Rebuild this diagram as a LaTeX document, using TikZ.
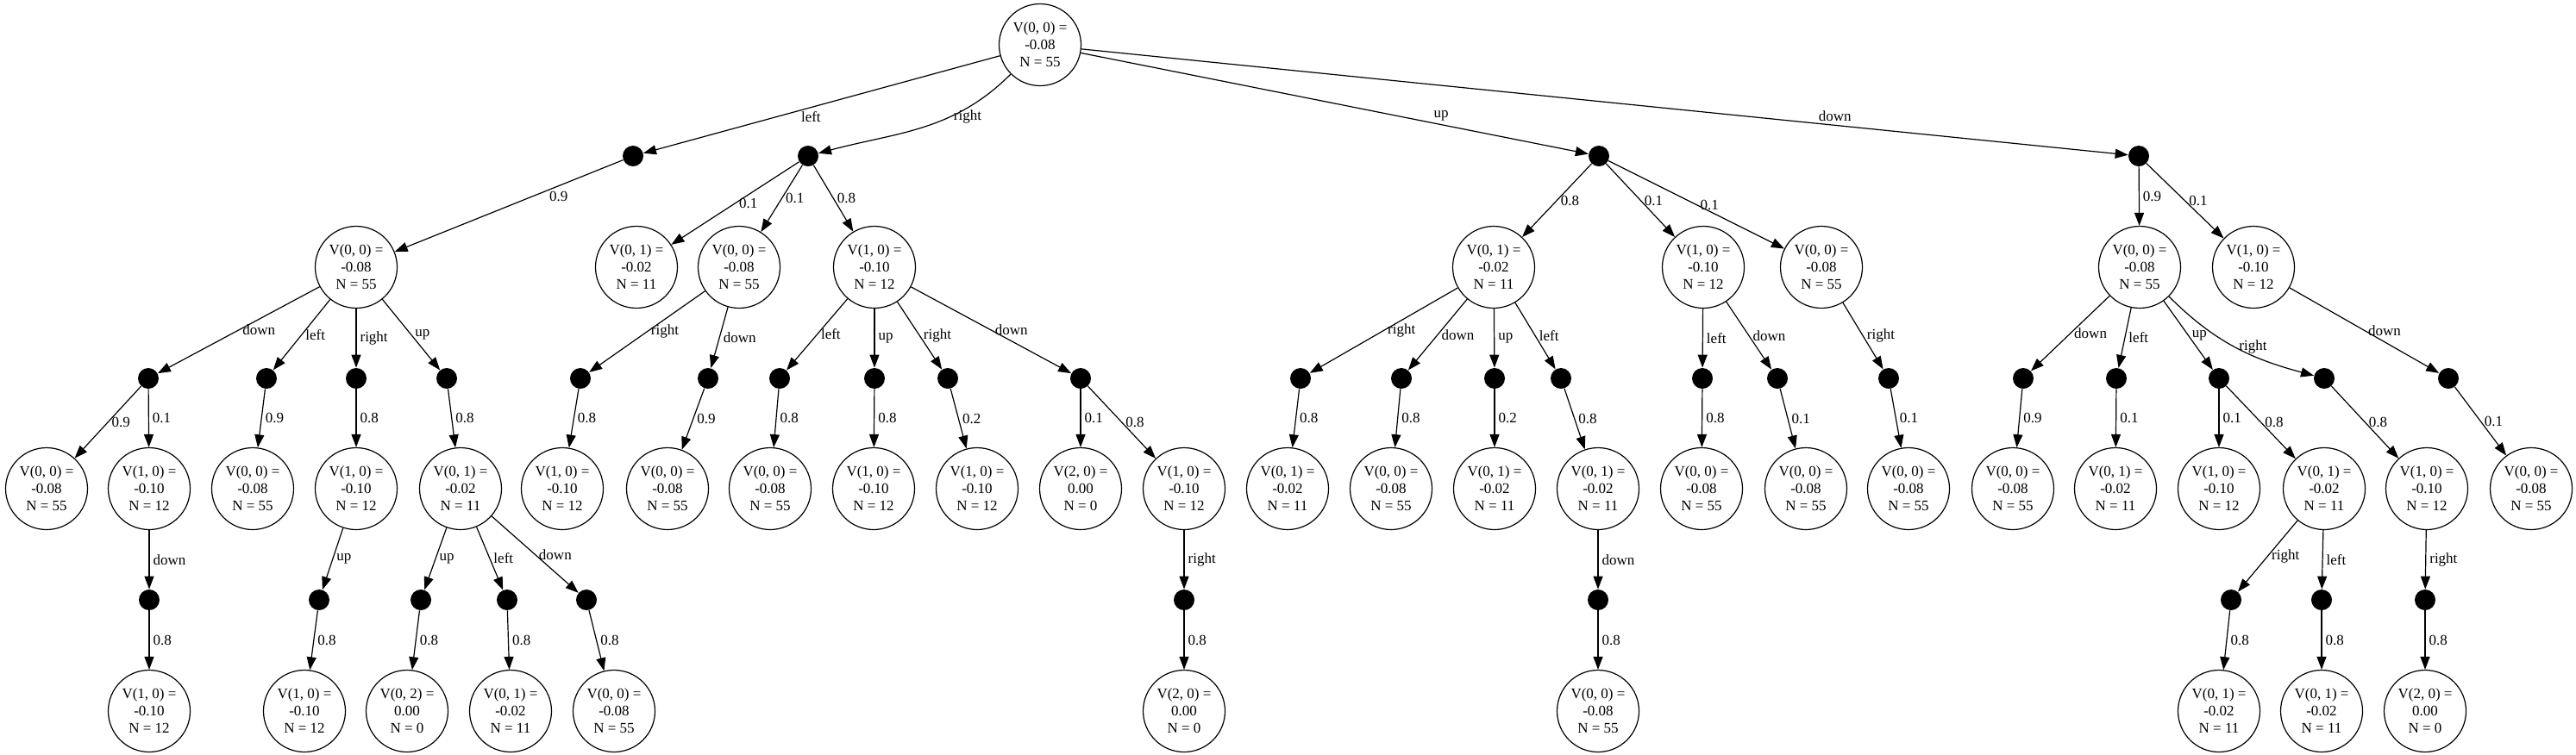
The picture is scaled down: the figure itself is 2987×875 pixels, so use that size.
\documentclass[tikz,border=0pt]{standalone}
\usepackage{fontspec}
\setmainfont{Liberation Serif}
\usetikzlibrary{arrows.meta}

\begin{document}
\begin{tikzpicture}[x=0.5pt, y=-0.5pt,
    state/.style={circle, draw, line width=0.6pt, minimum size=47.5pt, inner sep=0pt, align=center, font=\fontsize{8.5}{10}\selectfont},
    chance/.style={circle, fill=black, minimum size=12pt, inner sep=0pt},
    arr/.style={-{Triangle[length=7.5pt, width=5.5pt]}, line width=0.6pt},
    lbl/.style={font=\fontsize{8.5}{10}\selectfont, inner sep=2pt, anchor=west}]
    \useasboundingbox (0,0) rectangle (2987,875);

    \node[state] (r) at (1206,52) {V(0, 0) =\\-0.08\\N = 55};

    \node[chance] (cL) at (734,181) {};
    \node[chance] (cR) at (937,181) {};
    \node[chance] (cU) at (1854,181) {};
    \node[chance] (cD) at (2480,181) {};

    \node[state] (s1) at (413,310) {V(0, 0) =\\-0.08\\N = 55};
    \node[state] (s2) at (738,310) {V(0, 1) =\\-0.02\\N = 11};
    \node[state] (s3) at (857,310) {V(0, 0) =\\-0.08\\N = 55};
    \node[state] (s4) at (1014,310) {V(1, 0) =\\-0.10\\N = 12};
    \node[state] (s5) at (1732,310) {V(0, 1) =\\-0.02\\N = 11};
    \node[state] (s6) at (1975,310) {V(1, 0) =\\-0.10\\N = 12};
    \node[state] (s7) at (2112,310) {V(0, 0) =\\-0.08\\N = 55};
    \node[state] (s8) at (2481,310) {V(0, 0) =\\-0.08\\N = 55};
    \node[state] (s9) at (2613,310) {V(1, 0) =\\-0.10\\N = 12};

    \node[chance] (c1a) at (172,439) {};
    \node[chance] (c1b) at (309,439) {};
    \node[chance] (c1c) at (413,439) {};
    \node[chance] (c1d) at (518,439) {};
    \node[chance] (c3a) at (673,439) {};
    \node[chance] (c3b) at (821,439) {};
    \node[chance] (c4a) at (904,439) {};
    \node[chance] (c4b) at (1014,439) {};
    \node[chance] (c4c) at (1099,439) {};
    \node[chance] (c4d) at (1253,439) {};
    \node[chance] (c5a) at (1508,439) {};
    \node[chance] (c5b) at (1625,439) {};
    \node[chance] (c5c) at (1733,439) {};
    \node[chance] (c5d) at (1810,439) {};
    \node[chance] (c6a) at (1974,439) {};
    \node[chance] (c6b) at (2061,439) {};
    \node[chance] (c7a) at (2190,439) {};
    \node[chance] (c8a) at (2346,439) {};
    \node[chance] (c8b) at (2454,439) {};
    \node[chance] (c8c) at (2573,439) {};
    \node[chance] (c8d) at (2695,439) {};
    \node[chance] (c9a) at (2839,439) {};

    \node[state] (t1) at (54,567) {V(0, 0) =\\-0.08\\N = 55};
    \node[state] (t2) at (173,567) {V(1, 0) =\\-0.10\\N = 12};
    \node[state] (t3) at (293,567) {V(0, 0) =\\-0.08\\N = 55};
    \node[state] (t4) at (413,567) {V(1, 0) =\\-0.10\\N = 12};
    \node[state] (t5) at (534,567) {V(0, 1) =\\-0.02\\N = 11};
    \node[state] (t6) at (652,567) {V(1, 0) =\\-0.10\\N = 12};
    \node[state] (t7) at (774,567) {V(0, 0) =\\-0.08\\N = 55};
    \node[state] (t8) at (893,567) {V(0, 0) =\\-0.08\\N = 55};
    \node[state] (t9) at (1013,567) {V(1, 0) =\\-0.10\\N = 12};
    \node[state] (t10) at (1133,567) {V(1, 0) =\\-0.10\\N = 12};
    \node[state] (t11) at (1253,567) {V(2, 0) =\\0.00\\N = 0};
    \node[state] (t12) at (1373,567) {V(1, 0) =\\-0.10\\N = 12};
    \node[state] (t13) at (1493,567) {V(0, 1) =\\-0.02\\N = 11};
    \node[state] (t14) at (1613,567) {V(0, 0) =\\-0.08\\N = 55};
    \node[state] (t15) at (1733,567) {V(0, 1) =\\-0.02\\N = 11};
    \node[state] (t16) at (1853,567) {V(0, 1) =\\-0.02\\N = 11};
    \node[state] (t17) at (1973,567) {V(0, 0) =\\-0.08\\N = 55};
    \node[state] (t18) at (2094,567) {V(0, 0) =\\-0.08\\N = 55};
    \node[state] (t19) at (2213,567) {V(0, 0) =\\-0.08\\N = 55};
    \node[state] (t20) at (2334,567) {V(0, 0) =\\-0.08\\N = 55};
    \node[state] (t21) at (2453,567) {V(0, 1) =\\-0.02\\N = 11};
    \node[state] (t22) at (2573,567) {V(1, 0) =\\-0.10\\N = 12};
    \node[state] (t23) at (2695,567) {V(0, 1) =\\-0.02\\N = 11};
    \node[state] (t24) at (2814,567) {V(1, 0) =\\-0.10\\N = 12};
    \node[state] (t25) at (2935,567) {V(0, 0) =\\-0.08\\N = 55};

    \node[chance] (d1) at (173,696) {};
    \node[chance] (d2) at (370,696) {};
    \node[chance] (d3) at (488,696) {};
    \node[chance] (d4) at (588,696) {};
    \node[chance] (d5) at (680,696) {};
    \node[chance] (d6) at (1373,696) {};
    \node[chance] (d7) at (1853,696) {};
    \node[chance] (d8) at (2587,696) {};
    \node[chance] (d9) at (2692,696) {};
    \node[chance] (d10) at (2812,696) {};

    \node[state] (u1) at (173,825) {V(1, 0) =\\-0.10\\N = 12};
    \node[state] (u2) at (353,825) {V(1, 0) =\\-0.10\\N = 12};
    \node[state] (u3) at (472,825) {V(0, 2) =\\0.00\\N = 0};
    \node[state] (u4) at (592,825) {V(0, 1) =\\-0.02\\N = 11};
    \node[state] (u5) at (712,825) {V(0, 0) =\\-0.08\\N = 55};
    \node[state] (u6) at (1373,825) {V(2, 0) =\\0.00\\N = 0};
    \node[state] (u7) at (1853,825) {V(0, 0) =\\-0.08\\N = 55};
    \node[state] (u8) at (2573,825) {V(0, 1) =\\-0.02\\N = 11};
    \node[state] (u9) at (2692,825) {V(0, 1) =\\-0.02\\N = 11};
    \node[state] (u10) at (2812,825) {V(2, 0) =\\0.00\\N = 0};

    \draw[arr] (r) -- node[lbl, pos=0.53, anchor=north] {left} (cL);
    \draw[arr] (r) to[out=225, in=15] node[lbl, pos=0.35] {right} (cR);
    \draw[arr] (r) -- node[lbl, pos=0.71, anchor=south] {up} (cU);
    \draw[arr] (r) -- node[lbl, pos=0.72, anchor=south] {down} (cD);

    \draw[arr] (cL) -- node[lbl, pos=0.4, xshift=8pt] {0.9} (s1);
    \draw[arr] (cR) -- node[lbl, midway] {0.1} (s2);
    \draw[arr] (cR) -- node[lbl, midway] {0.1} (s3);
    \draw[arr] (cR) -- node[lbl, midway] {0.8} (s4);
    \draw[arr] (cU) -- node[lbl, midway] {0.8} (s5);
    \draw[arr] (cU) -- node[lbl, midway] {0.1} (s6);
    \draw[arr] (cU) -- node[lbl, midway] {0.1} (s7);
    \draw[arr] (cD) -- node[lbl, midway] {0.9} (s8);
    \draw[arr] (cD) -- node[lbl, midway] {0.1} (s9);

    \draw[arr] (s1) -- node[lbl, midway] {down} (c1a);
    \draw[arr] (s1) -- node[lbl, midway] {left} (c1b);
    \draw[arr] (s1) -- node[lbl, midway] {right} (c1c);
    \draw[arr] (s1) -- node[lbl, midway] {up} (c1d);
    \draw[arr] (s3) -- node[lbl, midway] {right} (c3a);
    \draw[arr] (s3) -- node[lbl, midway] {down} (c3b);
    \draw[arr] (s4) -- node[lbl, midway] {left} (c4a);
    \draw[arr] (s4) -- node[lbl, midway] {up} (c4b);
    \draw[arr] (s4) -- node[lbl, midway] {right} (c4c);
    \draw[arr] (s4) -- node[lbl, midway] {down} (c4d);
    \draw[arr] (s5) -- node[lbl, midway] {right} (c5a);
    \draw[arr] (s5) -- node[lbl, midway] {down} (c5b);
    \draw[arr] (s5) -- node[lbl, midway] {up} (c5c);
    \draw[arr] (s5) -- node[lbl, midway] {left} (c5d);
    \draw[arr] (s6) -- node[lbl, midway] {left} (c6a);
    \draw[arr] (s6) -- node[lbl, midway] {down} (c6b);
    \draw[arr] (s7) -- node[lbl, midway] {right} (c7a);
    \draw[arr] (s8) -- node[lbl, midway] {down} (c8a);
    \draw[arr] (s8) -- node[lbl, midway] {left} (c8b);
    \draw[arr] (s8) -- node[lbl, midway] {up} (c8c);
    \draw[arr] (s8) to[out=-45, in=165] node[lbl, midway] {right} (c8d);
    \draw[arr] (s9) -- node[lbl, midway] {down} (c9a);

    \draw[arr] (c1a) -- node[lbl, midway] {0.9} (t1);
    \draw[arr] (c1a) -- node[lbl, midway] {0.1} (t2);
    \draw[arr] (c1b) -- node[lbl, midway] {0.9} (t3);
    \draw[arr] (c1c) -- node[lbl, midway] {0.8} (t4);
    \draw[arr] (c1d) -- node[lbl, midway] {0.8} (t5);
    \draw[arr] (c3a) -- node[lbl, midway] {0.8} (t6);
    \draw[arr] (c3b) -- node[lbl, midway] {0.9} (t7);
    \draw[arr] (c4a) -- node[lbl, midway] {0.8} (t8);
    \draw[arr] (c4b) -- node[lbl, midway] {0.8} (t9);
    \draw[arr] (c4c) -- node[lbl, midway] {0.2} (t10);
    \draw[arr] (c4d) -- node[lbl, midway] {0.1} (t11);
    \draw[arr] (c4d) -- node[lbl, midway] {0.8} (t12);
    \draw[arr] (c5a) -- node[lbl, midway] {0.8} (t13);
    \draw[arr] (c5b) -- node[lbl, midway] {0.8} (t14);
    \draw[arr] (c5c) -- node[lbl, midway] {0.2} (t15);
    \draw[arr] (c5d) -- node[lbl, midway] {0.8} (t16);
    \draw[arr] (c6a) -- node[lbl, midway] {0.8} (t17);
    \draw[arr] (c6b) -- node[lbl, midway] {0.1} (t18);
    \draw[arr] (c7a) -- node[lbl, midway] {0.1} (t19);
    \draw[arr] (c8a) -- node[lbl, midway] {0.9} (t20);
    \draw[arr] (c8b) -- node[lbl, midway] {0.1} (t21);
    \draw[arr] (c8c) -- node[lbl, midway] {0.1} (t22);
    \draw[arr] (c8c) -- node[lbl, midway] {0.8} (t23);
    \draw[arr] (c8d) -- node[lbl, midway] {0.8} (t24);
    \draw[arr] (c9a) -- node[lbl, midway] {0.1} (t25);

    \draw[arr] (t2) -- node[lbl, midway] {down} (d1);
    \draw[arr] (t4) -- node[lbl, midway] {up} (d2);
    \draw[arr] (t5) -- node[lbl, midway] {up} (d3);
    \draw[arr] (t5) -- node[lbl, midway] {left} (d4);
    \draw[arr] (t5) -- node[lbl, midway] {down} (d5);
    \draw[arr] (t12) -- node[lbl, midway] {right} (d6);
    \draw[arr] (t16) -- node[lbl, midway] {down} (d7);
    \draw[arr] (t23) -- node[lbl, midway] {right} (d8);
    \draw[arr] (t23) -- node[lbl, midway] {left} (d9);
    \draw[arr] (t24) -- node[lbl, midway] {right} (d10);

    \draw[arr] (d1) -- node[lbl, midway] {0.8} (u1);
    \draw[arr] (d2) -- node[lbl, midway] {0.8} (u2);
    \draw[arr] (d3) -- node[lbl, midway] {0.8} (u3);
    \draw[arr] (d4) -- node[lbl, midway] {0.8} (u4);
    \draw[arr] (d5) -- node[lbl, midway] {0.8} (u5);
    \draw[arr] (d6) -- node[lbl, midway] {0.8} (u6);
    \draw[arr] (d7) -- node[lbl, midway] {0.8} (u7);
    \draw[arr] (d8) -- node[lbl, midway] {0.8} (u8);
    \draw[arr] (d9) -- node[lbl, midway] {0.8} (u9);
    \draw[arr] (d10) -- node[lbl, midway] {0.8} (u10);
\end{tikzpicture}
\end{document}
